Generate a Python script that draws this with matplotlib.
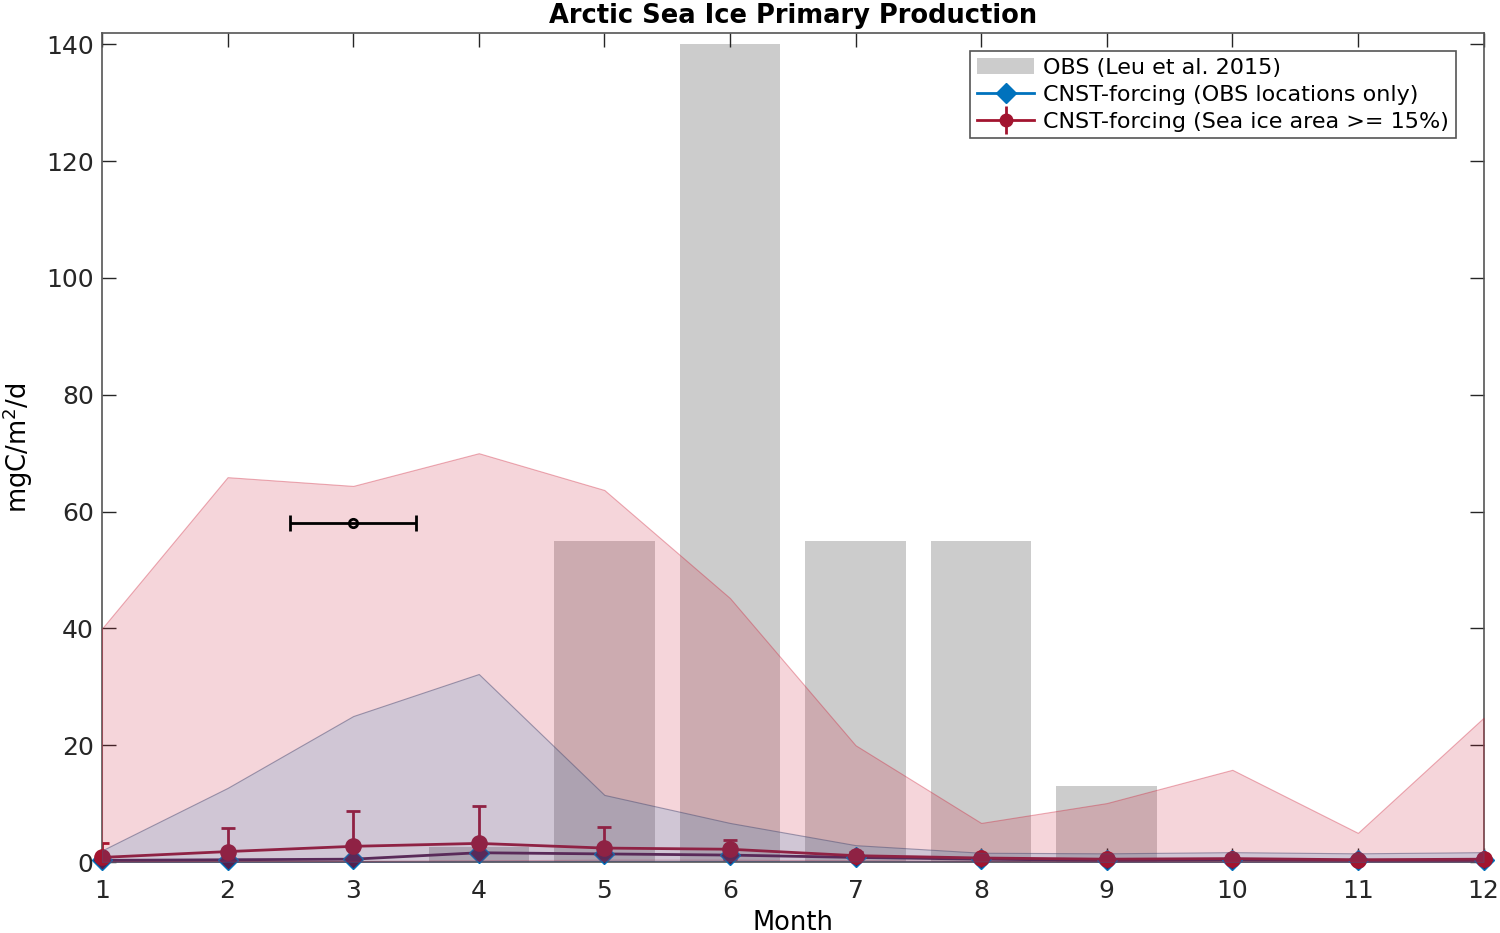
import matplotlib.pyplot as plt
import numpy as np
from matplotlib.patches import Patch
from matplotlib.lines import Line2D

months = np.arange(1, 13)

# OBS bars (Leu et al. 2015)
obs_months = [4, 5, 6, 7, 8, 9]
obs_vals = [2.5, 55, 140, 55, 55, 13]

# CNST-forcing, sea ice area >= 15% (red)
red_mean = [0.8, 1.8, 2.7, 3.2, 2.4, 2.2, 1.1, 0.7, 0.5, 0.6, 0.4, 0.5]
red_std = [2.4, 4.0, 6.0, 6.4, 3.6, 1.6, 0.6, 0.4, 0.3, 0.3, 0.3, 0.3]
red_max = [40, 65.9, 64.4, 70, 63.7, 45.2, 20, 6.7, 10.1, 15.8, 5, 24.7]
red_min = [0.1, 0.2, 0.2, 0.3, 0.4, 0.4, 0.3, 0.2, 0.1, 0.1, 0.1, 0.1]

# CNST-forcing, OBS locations only (blue)
blue_mean = [0.3, 0.4, 0.5, 1.6, 1.4, 1.2, 0.8, 0.5, 0.3, 0.4, 0.3, 0.3]
blue_max = [2.0, 12.7, 25, 32.2, 11.5, 6.7, 2.9, 1.6, 1.5, 1.7, 1.5, 1.7]
blue_min = [0.0, 0.0, 0.0, 0.1, 0.2, 0.2, 0.1, 0.1, 0.0, 0.0, 0.0, 0.0]

# single horizontal error bar point
pt_x, pt_y, pt_xerr = 3, 58, 0.5

c_blue = (0, 0.447, 0.741)
c_red = (0.635, 0.078, 0.184)
c_fill_red = (0.8, 0.1, 0.2)
c_dark = (0.33, 0.12, 0.3)

plt.rcParams['font.family'] = ['DejaVu Sans']
fig = plt.figure(figsize=(15, 9.33), dpi=100)
ax = fig.add_axes([0.068, 0.076, 0.921, 0.889])

ax.bar(obs_months, obs_vals, width=0.8, color=(0.8, 0.8, 0.8), zorder=1)

# mean lines (drawn under the fills)
ax.errorbar(months, red_mean, yerr=red_std, fmt='none', ecolor=c_red,
            elinewidth=2, capsize=5, capthick=2, zorder=2)
ax.plot(months, blue_mean, color=c_dark, lw=2, marker='D', ms=10,
        mfc=c_dark, mec=c_blue, mew=1, zorder=3, clip_on=False)
ax.plot(months, red_mean, color=c_red, lw=2, marker='o', ms=11,
        mfc=c_red, mec=c_red, zorder=3, clip_on=False)

# ranges
ax.fill_between(months, red_min, red_max, facecolor=(*c_fill_red, 0.18),
                edgecolor=(*c_fill_red, 0.35), lw=0.8, zorder=4)
ax.fill_between(months, blue_min, blue_max, facecolor=(*c_blue, 0.15),
                edgecolor=(0.3, 0.3, 0.45, 0.5), lw=0.8, zorder=5)

ax.errorbar([pt_x], [pt_y], xerr=[pt_xerr], fmt='o', color='black', ms=6,
            mfc='none', mew=2, elinewidth=2, capsize=6, capthick=2, zorder=6)

ax.set_xlim(1, 12)
ax.set_ylim(0, 142)
ax.set_xticks(months)
ax.set_yticks(np.arange(0, 141, 20))
ax.tick_params(direction='in', length=10, width=1, top=True, right=True,
               labelsize=18, colors='#262626', pad=6)
ax.tick_params(axis='x', pad=12)
for s in ax.spines.values():
    s.set_color('#555555')
    s.set_linewidth(1.2)

ax.set_title('Arctic Sea Ice Primary Production', fontsize=18.5,
             fontweight='bold', pad=7)
ax.set_xlabel('Month', fontsize=18.5, labelpad=5)
ax.set_ylabel('mgC/m$^2$/d', fontsize=18.5, labelpad=8)

handles = [
    Patch(facecolor=(0.8, 0.8, 0.8), edgecolor='none'),
    Line2D([], [], color=c_blue, lw=2, marker='D', ms=10),
    (Line2D([], [], color=c_red, lw=2, marker='o', ms=9),
     Line2D([], [], color=c_red, lw=0, marker='|', ms=20, mew=2)),
]
labels = ['OBS (Leu et al. 2015)', 'CNST-forcing (OBS locations only)',
          'CNST-forcing (Sea ice area >= 15%)']
leg = ax.legend(handles, labels, loc='upper right', fontsize=16,
                bbox_to_anchor=(0.98, 0.978), borderaxespad=0,
                fancybox=False, framealpha=1, edgecolor='#555555',
                handlelength=2.6, handletextpad=0.4,
                labelspacing=0.32, borderpad=0.3)
leg.get_frame().set_linewidth(1.2)

fig.savefig('out.png', dpi=100)
